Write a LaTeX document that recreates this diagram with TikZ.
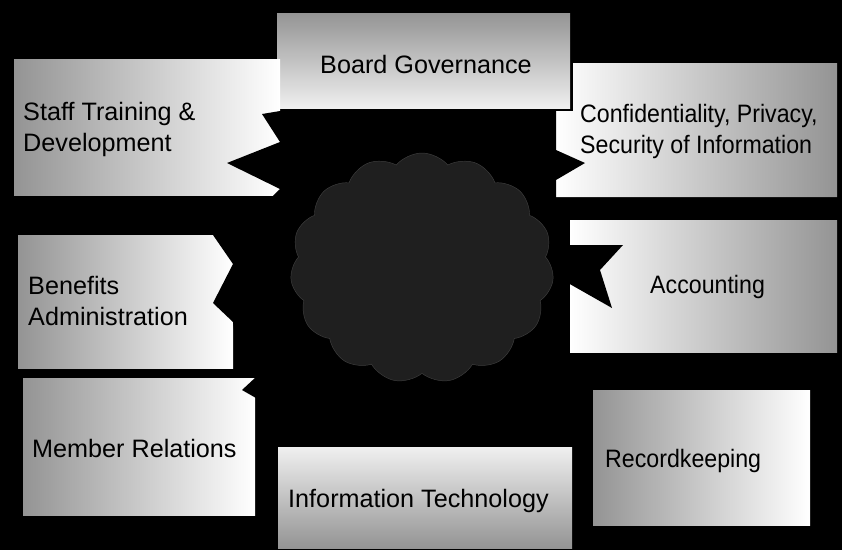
\documentclass[tikz,border=0pt]{standalone}
\usepackage{fontspec}
\setmainfont{Liberation Sans}
\usetikzlibrary{shapes.symbols}
\newcommand\tagfont{\fontsize{21.5}{26.5}\selectfont}
\newcommand\narrow[1]{\scalebox{0.92}[1]{#1}}

\begin{document}
\begin{tikzpicture}[x=0.03cm, y=-0.03cm,
	tag/.style={inner sep=0pt, font=\tagfont, text=black, align=left}]
	\fill[black] (0,0) rectangle (842,550);
	\useasboundingbox (0,0) rectangle (842,550);

	% panels, each fading from grey to white
	\shade[top color=black!42, bottom color=white!94!black] (277,13) rectangle (570,108);
	\shade[left color=black!42, right color=white] (14,59) rectangle (280,195);
	\shade[left color=white, right color=black!42] (573,63) -- (837,63) -- (837,197) -- (556,197) -- (556,111) -- (573,111) -- cycle;
	\shade[left color=black!42, right color=white] (18,235) rectangle (233,368);
	\shade[left color=white, right color=black!42] (570,220) rectangle (837,352);
	\shade[left color=black!42, right color=white] (23,378) rectangle (255,515);
	\shade[top color=white!94!black, bottom color=black!42] (278,447) rectangle (572,548);
	\shade[left color=black!42, right color=white] (593,390) rectangle (810,525);

	% the burst in the middle
	\fill[black] (262,114) -- (280,111) -- (556,111) -- (556,150) -- (585,163) -- (556,180)
		-- (556,198) -- (565,245) -- (623,245) -- (600,270) -- (612,308) -- (568,283)
		-- (560,300) -- (560,440) -- (278,440) -- (256,398) -- (242,390) -- (256,377)
		-- (240,372) -- (233,322) -- (213,303) -- (233,264) -- (213,235) -- (240,228)
		-- (280,189) -- (227,163) -- (280,142) -- cycle;
	\node[cloud, cloud puffs=15, cloud puff arc=100, aspect=1.15, fill=black!88, draw=black!76,
		minimum width=7.9cm, minimum height=6.9cm] (core) at (422,268) {};

	% labels
	\node[tag, anchor=base west] (board) at (320,73) {Board Governance};
	\node[tag, anchor=north west] (staff) at (23,102) {Staff Training \&\\Development};
	\node[tag, anchor=north west] (privacy) at (580,104) {\narrow{Confidentiality, Privacy,}\\\narrow{Security of Information}};
	\node[tag, anchor=north west] (benefits) at (28,276) {Benefits\\Administration};
	\node[tag, anchor=base west] (accounting) at (650,293) {\narrow{Accounting}};
	\node[tag, anchor=base west] (members) at (32,457) {Member Relations};
	\node[tag, anchor=base west] (it) at (288,507) {Information Technology};
	\node[tag, anchor=base west] (records) at (605,467) {\narrow{Recordkeeping}};
\end{tikzpicture}
\end{document}
